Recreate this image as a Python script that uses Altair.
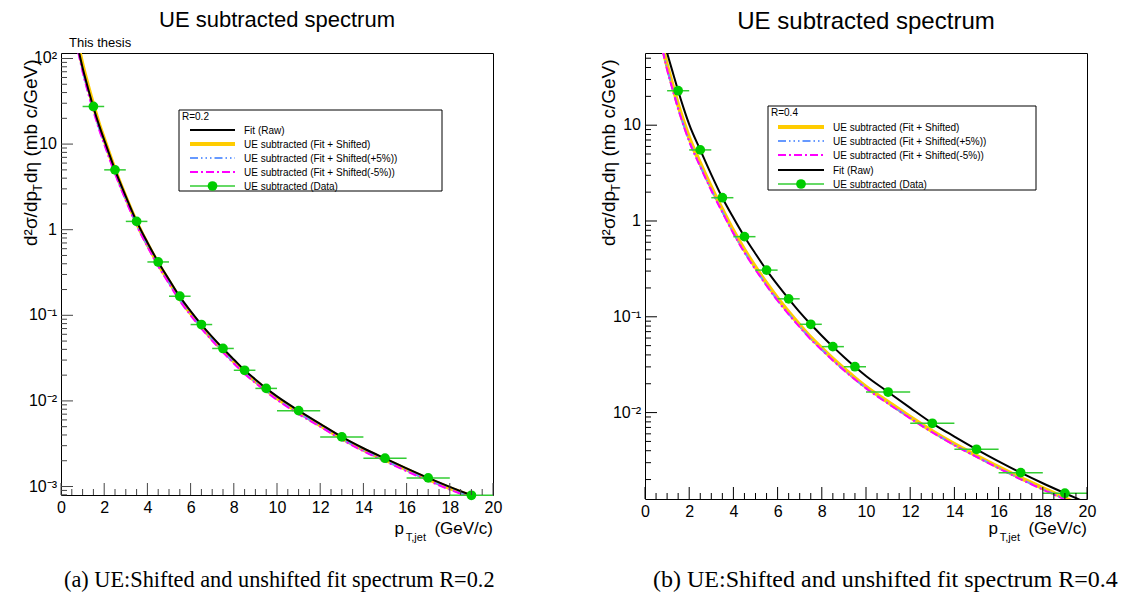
import altair as alt
import pandas as pd

FONT = "Liberation Sans"
SERIF = "Liberation Serif"

# ---------------- data ----------------
x_curve = [0.8, 1.0, 1.25, 1.5, 1.75, 2.0, 2.5, 3.0, 3.5, 4.0, 4.5, 5.0, 5.5, 6.0, 6.5, 7.0,
           7.5, 8.0, 8.5, 9.0, 9.5, 10, 11, 12, 13, 14, 15, 16, 17, 18, 19, 20]

# R = 0.2
left_fit_raw = [130, 78, 45, 27, 17, 11.2, 5.0, 2.45, 1.25, 0.71, 0.42, 0.262, 0.165, 0.112, 0.078, 0.056,
                0.041, 0.0305, 0.0228, 0.0178, 0.0140, 0.0113, 0.0077, 0.0054, 0.0038, 0.0028, 0.00213,
                0.00163, 0.00126, 0.00099, 0.00079, 0.00064]
left_shifted = [140, 84, 48, 28.5, 17.5, 11.4, 5.0, 2.4, 1.22, 0.68, 0.40, 0.25, 0.157, 0.106, 0.074, 0.053,
                0.039, 0.029, 0.0217, 0.0170, 0.0134, 0.0108, 0.0074, 0.0052, 0.00366, 0.00270, 0.00206,
                0.00158, 0.00122, 0.00096, 0.00077, 0.00062]
left_plus5 = [122, 72, 41, 25, 15.6, 10.3, 4.6, 2.25, 1.15, 0.65, 0.385, 0.24, 0.152, 0.103, 0.072, 0.052,
              0.038, 0.028, 0.0212, 0.0166, 0.0131, 0.0105, 0.0072, 0.0051, 0.00358, 0.00264, 0.00201,
              0.00154, 0.00119, 0.00094, 0.00075, 0.00061]
left_minus5 = [118, 70, 40, 24.3, 15.2, 10.0, 4.5, 2.2, 1.12, 0.635, 0.375, 0.234, 0.148, 0.100, 0.070, 0.0505,
               0.037, 0.0274, 0.0207, 0.0162, 0.0128, 0.0103, 0.0070, 0.0050, 0.00352, 0.00259, 0.00197,
               0.00151, 0.00117, 0.00092, 0.00074, 0.00060]

# R = 0.4
right_fit_raw = [85, 57, 36, 22.9, 15.0, 10.2, 5.52, 3.05, 1.75, 1.08, 0.686, 0.455, 0.307, 0.215, 0.154, 0.112,
                 0.0835, 0.0635, 0.0488, 0.0381, 0.0301, 0.0241, 0.0164, 0.0112, 0.00773, 0.00562, 0.00414,
                 0.00310, 0.00236, 0.00183, 0.00144, 0.00114]
right_shifted = [66, 42, 26, 16.3, 10.8, 7.4, 4.0, 2.25, 1.32, 0.79, 0.50, 0.33, 0.224, 0.156, 0.112, 0.082,
                 0.061, 0.047, 0.0365, 0.0288, 0.0230, 0.0186, 0.0129, 0.0090, 0.0064, 0.0047, 0.00355,
                 0.00270, 0.00208, 0.00163, 0.00128, 0.00102]
right_plus5 = [62, 39, 24, 15.1, 10.0, 6.9, 3.75, 2.12, 1.25, 0.75, 0.475, 0.315, 0.214, 0.149, 0.107, 0.079,
               0.059, 0.0455, 0.0353, 0.0279, 0.0223, 0.0181, 0.0125, 0.0088, 0.00625, 0.0046, 0.00347,
               0.00264, 0.00203, 0.00159, 0.00125, 0.00100]
right_minus5 = [60, 38, 23.4, 14.8, 9.8, 6.75, 3.68, 2.08, 1.23, 0.74, 0.468, 0.31, 0.211, 0.147, 0.106, 0.078,
                0.058, 0.045, 0.035, 0.0276, 0.0221, 0.0179, 0.0124, 0.0087, 0.0062, 0.00456, 0.00344,
                0.00262, 0.00201, 0.00157, 0.00124, 0.00099]

bin_center = [1.5, 2.5, 3.5, 4.5, 5.5, 6.5, 7.5, 8.5, 9.5, 11, 13, 15, 17, 19]
bin_low = [1, 2, 3, 4, 5, 6, 7, 8, 9, 10, 12, 14, 16, 18]
bin_high = [2, 3, 4, 5, 6, 7, 8, 9, 10, 12, 14, 16, 18, 20]
left_data = [27.5, 5.0, 1.25, 0.42, 0.167, 0.078, 0.041, 0.0228, 0.0140, 0.0077, 0.0038, 0.00214, 0.00126, 0.00079]
right_data = [22.9, 5.52, 1.75, 0.686, 0.307, 0.154, 0.0835, 0.0488, 0.0301, 0.0164, 0.00773, 0.00414, 0.00236, 0.00144]

x_major = [0, 2, 4, 6, 8, 10, 12, 14, 16, 18, 20]
x_minor = [v / 2 for v in range(0, 41) if v % 4 != 0]

left_y_major = [1e-3, 1e-2, 1e-1, 1, 10, 100]
left_y_labels = ["10⁻³", "10⁻²", "10⁻¹", "1", "10", "10²"]
right_y_major = [1e-2, 1e-1, 1, 10]
right_y_labels = ["10⁻²", "10⁻¹", "1", "10"]

series_names = ["Fit (Raw)", "UE subtracted (Fit + Shifted)", "UE subtracted (Fit + Shifted(+5%))",
                "UE subtracted (Fit + Shifted(-5%))", "UE subtracted (Data)"]

STYLE = {
    "Fit (Raw)": dict(color="black", strokeWidth=2),
    "UE subtracted (Fit + Shifted)": dict(color="#ffcc00", strokeWidth=4),
    "UE subtracted (Fit + Shifted(+5%))": dict(color="#6699ff", strokeWidth=2, strokeDash=[8, 3, 1.5, 3, 1.5, 3, 1.5, 3]),
    "UE subtracted (Fit + Shifted(-5%))": dict(color="#ff00ff", strokeWidth=2, strokeDash=[8, 3, 2, 3]),
}
GREEN_PT = "#00cc00"
GREEN_LN = "#33cc33"

one = pd.DataFrame({"a": [0]})


def txt(x, y, s, size, font=FONT, **kw):
    props = dict(text=s, fontSize=size, font=font, color="black", align="left", baseline="alphabetic")
    props.update(kw)
    return alt.Chart(one).mark_text(**props).encode(x=alt.value(x), y=alt.value(y))


def hseg(x1, x2, y, **kw):
    return alt.Chart(one).mark_rule(**kw).encode(x=alt.value(x1), x2=alt.value(x2), y=alt.value(y))


def panel(W, H, ydom, curves, order, data_vals, ymaj, ylab, legend, frame, texts):
    xs = alt.Scale(domain=[0, 20], nice=False, zero=False)
    ys = alt.Scale(type="log", domain=ydom, nice=False)
    xaxis = alt.Axis(values=x_major, ticks=False, domain=False, grid=False, labelFontSize=16,
                     labelFont=FONT, labelColor="black", labelPadding=4, title=None,
                     labelFlush=False, labelOverlap=False)

    def X(f="x"):
        return alt.X(f"{f}:Q", scale=xs, axis=xaxis)

    def Y(f="y"):
        return alt.Y(f"{f}:Q", scale=ys, axis=None)

    layers = []
    for name in order:
        df = pd.DataFrame({"x": x_curve, "y": curves[name]})
        layers.append(alt.Chart(df).mark_line(clip=True, interpolate="monotone", **STYLE[name])
                      .encode(x=X(), y=Y()))

    pts = pd.DataFrame({"x": bin_center, "lo": bin_low, "hi": bin_high, "y": data_vals})
    layers.append(alt.Chart(pts).mark_rule(color=GREEN_LN, strokeWidth=1.5)
                  .encode(x=X("lo"), x2=alt.X2("hi:Q"), y=Y()))
    layers.append(alt.Chart(pts).mark_point(filled=True, shape="circle", size=95, color=GREEN_PT, opacity=1)
                  .encode(x=X(), y=Y()))

    # inward ticks
    lo, hi = ydom
    ymin = [d * 10.0 ** e for e in range(-4, 3) for d in range(2, 10) if lo <= d * 10.0 ** e <= hi]
    layers.append(alt.Chart(pd.DataFrame({"y": ymaj})).mark_rule(color=frame, strokeWidth=1)
                  .encode(y=Y(), x=alt.value(0), x2=alt.value(12)))
    layers.append(alt.Chart(pd.DataFrame({"y": ymin})).mark_rule(color=frame, strokeWidth=1)
                  .encode(y=Y(), x=alt.value(0), x2=alt.value(6)))
    layers.append(alt.Chart(pd.DataFrame({"x": x_major})).mark_rule(color=frame, strokeWidth=1)
                  .encode(x=X(), y=alt.value(H), y2=alt.value(H - 12)))
    layers.append(alt.Chart(pd.DataFrame({"x": x_minor})).mark_rule(color=frame, strokeWidth=1)
                  .encode(x=X(), y=alt.value(H), y2=alt.value(H - 6)))
    # y tick labels
    layers.append(alt.Chart(pd.DataFrame({"y": ymaj, "lab": ylab}))
                  .mark_text(align="right", baseline="middle", fontSize=16, font=FONT, color="black")
                  .encode(y=Y(), x=alt.value(-4), text="lab:N"))

    # legend
    bx1, bx2, by1, by2, hdr, rows, lx1, lx2, tx, leg_order = legend
    layers.append(alt.Chart(one).mark_rect(fill="white", stroke="black", strokeWidth=1)
                  .encode(x=alt.value(bx1), x2=alt.value(bx2), y=alt.value(by1), y2=alt.value(by2)))
    layers.append(txt(bx1 + 3, by1 + 10, hdr, 10))
    for name, ry in zip(leg_order, rows):
        if name in STYLE:
            layers.append(hseg(lx1, lx2, ry, **STYLE[name]))
        else:
            layers.append(hseg(lx1, lx2, ry, color=GREEN_LN, strokeWidth=1.5))
            layers.append(alt.Chart(one).mark_point(filled=True, shape="circle", size=95, color=GREEN_PT,
                                                   opacity=1)
                          .encode(x=alt.value((lx1 + lx2) / 2), y=alt.value(ry)))
        layers.append(txt(tx, ry + 3.5, name, 10))

    layers.extend(texts)
    return alt.layer(*layers).properties(width=W, height=H)


def y_title(xb, y0):
    # d²σ/dp_T dη (mb c/GeV), rotated, with subscript T
    return [
        txt(xb, y0, "d²σ/dp", 19, angle=270),
        txt(xb + 5, y0 - 54.5, "T", 12, angle=270),
        txt(xb, y0 - 63, "dη (mb c/GeV)", 19, angle=270),
    ]


def x_title(W, yb):
    return [
        txt(W, yb, "(GeV/c)", 17, align="right"),
        txt(W - 67, yb + 7, "T,jet", 11, align="right"),
        txt(W - 89, yb, "p", 17, align="right"),
    ]


# ---------------- left panel (R=0.2) ----------------
LW, LH = 432, 442
left_curves = {
    "Fit (Raw)": left_fit_raw,
    "UE subtracted (Fit + Shifted)": left_shifted,
    "UE subtracted (Fit + Shifted(+5%))": left_plus5,
    "UE subtracted (Fit + Shifted(-5%))": left_minus5,
}
left_texts = (
    [alt.Chart(one).mark_rule(color="white", opacity=0)
     .encode(x=alt.value(-52), x2=alt.value(-51), y=alt.value(-44))]
    + [txt(LW / 2, -26, "UE subtracted spectrum", 22, align="center"),
       txt(8, -6, "This thesis", 13)]
    + y_title(-24, 193)
    + x_title(LW, 481)
    + [txt(3, 527, "(a) UE:Shifted and unshifted fit spectrum R=0.2", 22.3, font=SERIF, baseline="middle")]
)
left = panel(
    LW, LH, [7.96e-4, 115.9], left_curves,
    ["UE subtracted (Fit + Shifted)", "UE subtracted (Fit + Shifted(+5%))",
     "UE subtracted (Fit + Shifted(-5%))", "Fit (Raw)"],
    left_data, left_y_major, left_y_labels,
    (118, 381, 57, 138, "R=0.2", [77, 91, 105, 119, 133], 129, 174, 183, series_names),
    "#444444", left_texts,
)

# ---------------- right panel (R=0.4) ----------------
RW, RH = 442, 446
right_curves = {
    "Fit (Raw)": right_fit_raw,
    "UE subtracted (Fit + Shifted)": right_shifted,
    "UE subtracted (Fit + Shifted(+5%))": right_plus5,
    "UE subtracted (Fit + Shifted(-5%))": right_minus5,
}
right_leg_order = [series_names[1], series_names[2], series_names[3], series_names[0], series_names[4]]
right_texts = (
    [txt(RW / 2, -24, "UE subtracted spectrum", 24, align="center")]
    + y_title(-30, 193)
    + x_title(RW, 481)
    + [txt(8, 527, "(b) UE:Shifted and unshifted fit spectrum R=0.4", 24, font=SERIF, baseline="middle",
           limit=478, ellipsis="\u200b")]
)
right = panel(
    RW, RH, [1.253e-3, 56.7], right_curves,
    ["UE subtracted (Fit + Shifted)", "UE subtracted (Fit + Shifted(+5%))",
     "UE subtracted (Fit + Shifted(-5%))", "Fit (Raw)"],
    right_data, right_y_major, right_y_labels,
    (123, 391, 53, 137, "R=0.4", [74, 88, 102, 117, 131], 133, 179, 188, right_leg_order),
    "black", right_texts,
)

chart = (
    alt.hconcat(left, right, spacing=152, bounds="flush")
    .properties(padding=0, background="white")
    .configure_view(stroke="black", strokeWidth=1)
)

chart.save("out.html", embed_options={"renderer": "svg", "actions": False})
